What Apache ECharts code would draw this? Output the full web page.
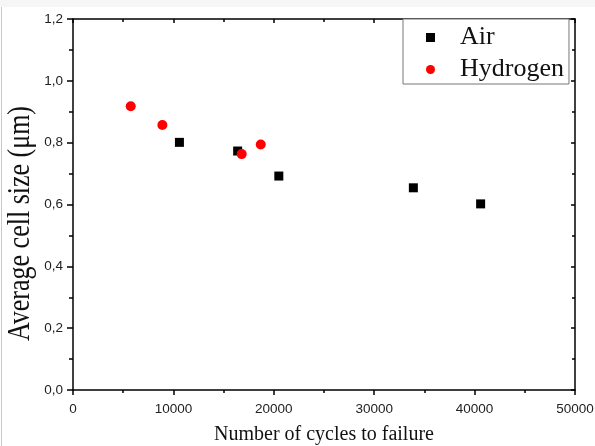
<!DOCTYPE html>
<html>
<head>
<meta charset="utf-8">
<script src="https://cdn.jsdelivr.net/npm/echarts@6/dist/echarts.min.js"></script>
<style>html,body{margin:0;padding:0;background:#fff}#c{width:595px;height:446px}</style>
</head>
<body>
<div id="c"></div>
<script>
var seriesNames = ['Air', 'Hydrogen'];
var airCycles = [10600, 16400, 20500, 33900, 40600];
var airSize = [0.801, 0.773, 0.692, 0.654, 0.602];
var h2Cycles = [5750, 8900, 16800, 18700];
var h2Size = [0.918, 0.857, 0.763, 0.794];
var xTitle = 'Number of cycles to failure';
var yTitle = 'Average cell size (\u03bcm)';

function pairs(xs, ys) { return xs.map(function (x, i) { return [x, ys[i]]; }); }

var serif = '"Liberation Serif","Times New Roman",serif';
var sans = '"Liberation Sans",Arial,sans-serif';
var axisLine = { show: true, onZero: false, lineStyle: { color: '#000', width: 1.5 } };

var chart = echarts.init(document.getElementById('c'), null, { renderer: 'canvas' });
chart.setOption({
  animation: false,
  backgroundColor: '#fff',
  grid: { left: 73, right: 20, top: 19, bottom: 56, containLabel: false, outerBoundsMode: 'none' },
  xAxis: [{
    type: 'value', position: 'bottom', min: 0, max: 50000, interval: 10000,
    name: xTitle, nameLocation: 'middle', nameGap: 35,
    nameTextStyle: { fontFamily: serif, fontSize: 20, color: '#111' },
    axisLine: axisLine,
    axisTick: { show: true, inside: false, length: 5, lineStyle: { color: '#000', width: 1.5 } },
    minorTick: { show: true, splitNumber: 2, length: 3, lineStyle: { color: '#000', width: 1.5 } },
    axisLabel: { fontFamily: sans, fontSize: 13.5, color: '#222', margin: 12,
      formatter: function (v) { return String(v); } },
    splitLine: { show: false }
  }, {
    type: 'value', position: 'top', min: 0, max: 50000, interval: 10000,
    axisLine: axisLine,
    axisTick: { show: true, inside: true, length: 4, lineStyle: { color: '#000', width: 1.5 } },
    minorTick: { show: true, splitNumber: 2, length: 3, lineStyle: { color: '#000', width: 1.5 } },
    axisLabel: { show: false }, splitLine: { show: false }
  }],
  yAxis: [{
    type: 'value', position: 'left', min: 0, max: 1.2, interval: 0.2,
    axisLine: axisLine,
    axisTick: { show: true, inside: false, length: 6, lineStyle: { color: '#000', width: 1.5 } },
    minorTick: { show: true, splitNumber: 2, length: 4, lineStyle: { color: '#000', width: 1.5 } },
    axisLabel: {
      fontFamily: sans, fontSize: 13.5, color: '#222', margin: 10,
      formatter: function (v) { return v.toFixed(1).replace('.', ','); }
    },
    splitLine: { show: false }
  }, {
    type: 'value', position: 'right', min: 0, max: 1.2, interval: 0.2,
    axisLine: axisLine,
    axisTick: { show: true, inside: true, length: 4, lineStyle: { color: '#000', width: 1.5 } },
    minorTick: { show: true, splitNumber: 2, length: 3, lineStyle: { color: '#000', width: 1.5 } },
    axisLabel: { show: false }, splitLine: { show: false }
  }],
  legend: {
    orient: 'vertical', left: 403, top: 19,
    padding: [5, 5, 1, 23], itemGap: 5,
    itemWidth: 9, itemHeight: 9,
    borderColor: '#777', borderWidth: 1, backgroundColor: '#fff',
    textStyle: { fontFamily: serif, fontSize: 26, color: '#111', lineHeight: 27, padding: [0, 0, 0, 20] },
    data: [{ name: seriesNames[0], icon: 'rect' }, { name: seriesNames[1], icon: 'circle' }]
  },
  graphic: [
    { type: 'rect', shape: { x: 0, y: 0, width: 595, height: 7 }, style: { fill: '#f6f6f6' }, silent: true },
    { type: 'line', shape: { x1: 1.5, y1: 7, x2: 1.5, y2: 446 }, style: { stroke: '#c8c8c8', lineWidth: 1 }, silent: true },
    {
      type: 'text', x: 21, y: 223.5, rotation: Math.PI / 2, scaleY: 1.2,
      style: { text: yTitle, fontFamily: serif, fontSize: 26, fill: '#111', align: 'center', verticalAlign: 'middle' }
    }
  ],
  series: [{
    name: seriesNames[0], type: 'scatter', symbol: 'rect', symbolSize: 9,
    itemStyle: { color: '#000', opacity: 1 }, data: pairs(airCycles, airSize), z: 2
  }, {
    name: seriesNames[1], type: 'scatter', symbol: 'circle', symbolSize: 10,
    itemStyle: { color: '#ff0000', opacity: 1 }, data: pairs(h2Cycles, h2Size), z: 3
  }]
});
</script>
</body>
</html>
